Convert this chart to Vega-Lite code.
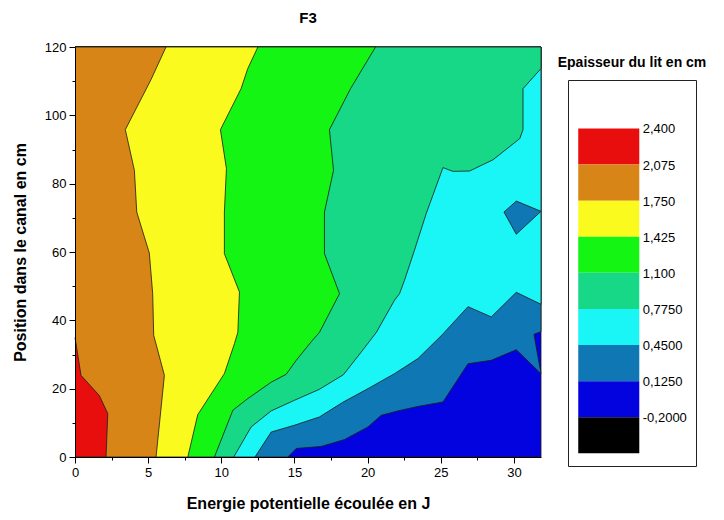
{
  "$schema": "https://vega.github.io/schema/vega-lite/v6.json",
  "padding": {"left": 12, "top": 11, "right": 5, "bottom": 5},
  "background": "white",
  "config": {"font": "Liberation Sans", "view": {"stroke": null}},
  "datasets": {
    "poly": [
      {"poly":"p0","band":"b1","i":0,"x":0,"y":0},{"poly":"p0","band":"b1","i":1,"x":31.85,"y":0},{"poly":"p0","band":"b1","i":2,"x":31.85,"y":120},{"poly":"p0","band":"b1","i":3,"x":0,"y":120},
      {"poly":"p1","band":"b2","i":0,"x":0,"y":0},{"poly":"p1","band":"b2","i":1,"x":14.55,"y":0},{"poly":"p1","band":"b2","i":2,"x":15.12,"y":2.5},{"poly":"p1","band":"b2","i":3,"x":16.83,"y":3.1},{"poly":"p1","band":"b2","i":4,"x":18.42,"y":5.1},{"poly":"p1","band":"b2","i":5,"x":20.02,"y":8.8},{"poly":"p1","band":"b2","i":6,"x":20.93,"y":12.2},{"poly":"p1","band":"b2","i":7,"x":22.07,"y":13.5},{"poly":"p1","band":"b2","i":8,"x":23.44,"y":14.8},{"poly":"p1","band":"b2","i":9,"x":25.15,"y":16.1},{"poly":"p1","band":"b2","i":10,"x":26.86,"y":27.3},{"poly":"p1","band":"b2","i":11,"x":28.45,"y":28.3},{"poly":"p1","band":"b2","i":12,"x":30.16,"y":31.4},{"poly":"p1","band":"b2","i":13,"x":31.85,"y":24.4},{"poly":"p1","band":"b2","i":14,"x":31.37,"y":35.9},{"poly":"p1","band":"b2","i":15,"x":31.85,"y":36.7},{"poly":"p1","band":"b2","i":16,"x":31.85,"y":120},{"poly":"p1","band":"b2","i":17,"x":0,"y":120},
      {"poly":"p2","band":"b3","i":0,"x":0,"y":0},{"poly":"p2","band":"b3","i":1,"x":12.3,"y":0},{"poly":"p2","band":"b3","i":2,"x":13.41,"y":7.3},{"poly":"p2","band":"b3","i":3,"x":15.0,"y":9.3},{"poly":"p2","band":"b3","i":4,"x":16.7,"y":11.7},{"poly":"p2","band":"b3","i":5,"x":18.3,"y":16.0},{"poly":"p2","band":"b3","i":6,"x":20.02,"y":20.0},{"poly":"p2","band":"b3","i":7,"x":21.84,"y":24.4},{"poly":"p2","band":"b3","i":8,"x":23.44,"y":28.8},{"poly":"p2","band":"b3","i":9,"x":25.1,"y":35.8},{"poly":"p2","band":"b3","i":10,"x":26.86,"y":44.0},{"poly":"p2","band":"b3","i":11,"x":28.45,"y":41.0},{"poly":"p2","band":"b3","i":12,"x":30.16,"y":48.2},{"poly":"p2","band":"b3","i":13,"x":31.85,"y":44.7},{"poly":"p2","band":"b3","i":14,"x":31.85,"y":120},{"poly":"p2","band":"b3","i":15,"x":0,"y":120},
      {"poly":"p3","band":"b2","i":0,"x":29.32,"y":71.7},{"poly":"p3","band":"b2","i":1,"x":30.16,"y":74.9},{"poly":"p3","band":"b2","i":2,"x":31.85,"y":71.9},{"poly":"p3","band":"b2","i":3,"x":30.16,"y":65.2},{"poly":"p3","band":"b2","i":4,"x":29.32,"y":71.7},
      {"poly":"p4","band":"b4","i":0,"x":0,"y":0},{"poly":"p4","band":"b4","i":1,"x":10.85,"y":0},{"poly":"p4","band":"b4","i":2,"x":12.04,"y":8.8},{"poly":"p4","band":"b4","i":3,"x":13.41,"y":13.5},{"poly":"p4","band":"b4","i":4,"x":15.0,"y":16.6},{"poly":"p4","band":"b4","i":5,"x":16.7,"y":19.8},{"poly":"p4","band":"b4","i":6,"x":18.35,"y":24.1},{"poly":"p4","band":"b4","i":7,"x":19.56,"y":30.7},{"poly":"p4","band":"b4","i":8,"x":20.6,"y":36.5},{"poly":"p4","band":"b4","i":9,"x":21.84,"y":45.9},{"poly":"p4","band":"b4","i":10,"x":22.18,"y":47.8},{"poly":"p4","band":"b4","i":11,"x":22.52,"y":51.7},{"poly":"p4","band":"b4","i":12,"x":23.2,"y":60.5},{"poly":"p4","band":"b4","i":13,"x":24.0,"y":71.2},{"poly":"p4","band":"b4","i":14,"x":25.15,"y":84.7},{"poly":"p4","band":"b4","i":15,"x":25.83,"y":83.6},{"poly":"p4","band":"b4","i":16,"x":26.97,"y":83.7},{"poly":"p4","band":"b4","i":17,"x":28.57,"y":87.0},{"poly":"p4","band":"b4","i":18,"x":30.4,"y":93.2},{"poly":"p4","band":"b4","i":19,"x":30.62,"y":95.8},{"poly":"p4","band":"b4","i":20,"x":30.62,"y":107.8},{"poly":"p4","band":"b4","i":21,"x":31.85,"y":113.7},{"poly":"p4","band":"b4","i":22,"x":31.85,"y":120},{"poly":"p4","band":"b4","i":23,"x":0,"y":120},
      {"poly":"p5","band":"b5","i":0,"x":0,"y":0},{"poly":"p5","band":"b5","i":1,"x":9.53,"y":0},{"poly":"p5","band":"b5","i":2,"x":10.79,"y":13.7},{"poly":"p5","band":"b5","i":3,"x":11.81,"y":17.1},{"poly":"p5","band":"b5","i":4,"x":13.41,"y":21.9},{"poly":"p5","band":"b5","i":5,"x":14.43,"y":24.2},{"poly":"p5","band":"b5","i":6,"x":15.12,"y":28.3},{"poly":"p5","band":"b5","i":7,"x":16.14,"y":33.7},{"poly":"p5","band":"b5","i":8,"x":16.71,"y":36.5},{"poly":"p5","band":"b5","i":9,"x":18.08,"y":47.8},{"poly":"p5","band":"b5","i":10,"x":17.05,"y":59.5},{"poly":"p5","band":"b5","i":11,"x":17.05,"y":71.7},{"poly":"p5","band":"b5","i":12,"x":17.67,"y":83.9},{"poly":"p5","band":"b5","i":13,"x":17.39,"y":95.8},{"poly":"p5","band":"b5","i":14,"x":18.83,"y":107.8},{"poly":"p5","band":"b5","i":15,"x":20.54,"y":120},{"poly":"p5","band":"b5","i":16,"x":0,"y":120},
      {"poly":"p6","band":"b6","i":0,"x":0,"y":0},{"poly":"p6","band":"b6","i":1,"x":7.71,"y":0},{"poly":"p6","band":"b6","i":2,"x":8.39,"y":12.4},{"poly":"p6","band":"b6","i":3,"x":10.21,"y":24.4},{"poly":"p6","band":"b6","i":4,"x":10.9,"y":33.2},{"poly":"p6","band":"b6","i":5,"x":11.13,"y":36.5},{"poly":"p6","band":"b6","i":6,"x":11.24,"y":48.3},{"poly":"p6","band":"b6","i":7,"x":10.21,"y":59.5},{"poly":"p6","band":"b6","i":8,"x":10.21,"y":71.7},{"poly":"p6","band":"b6","i":9,"x":10.35,"y":84.4},{"poly":"p6","band":"b6","i":10,"x":9.94,"y":95.8},{"poly":"p6","band":"b6","i":11,"x":11.35,"y":107.8},{"poly":"p6","band":"b6","i":12,"x":11.81,"y":113.7},{"poly":"p6","band":"b6","i":13,"x":12.5,"y":120},{"poly":"p6","band":"b6","i":14,"x":0,"y":120},
      {"poly":"p7","band":"b7","i":0,"x":0,"y":0},{"poly":"p7","band":"b7","i":1,"x":5.54,"y":0},{"poly":"p7","band":"b7","i":2,"x":6.11,"y":23.9},{"poly":"p7","band":"b7","i":3,"x":5.38,"y":35.6},{"poly":"p7","band":"b7","i":4,"x":5.31,"y":47.8},{"poly":"p7","band":"b7","i":5,"x":5.08,"y":59.7},{"poly":"p7","band":"b7","i":6,"x":4.22,"y":71.7},{"poly":"p7","band":"b7","i":7,"x":4.06,"y":83.9},{"poly":"p7","band":"b7","i":8,"x":3.44,"y":95.8},{"poly":"p7","band":"b7","i":9,"x":5.2,"y":110.5},{"poly":"p7","band":"b7","i":10,"x":6.22,"y":120},{"poly":"p7","band":"b7","i":11,"x":0,"y":120},
      {"poly":"p8","band":"b8","i":0,"x":0,"y":0},{"poly":"p8","band":"b8","i":1,"x":2.12,"y":0},{"poly":"p8","band":"b8","i":2,"x":2.24,"y":12.7},{"poly":"p8","band":"b8","i":3,"x":1.66,"y":18.0},{"poly":"p8","band":"b8","i":4,"x":0.41,"y":23.9},{"poly":"p8","band":"b8","i":5,"x":0,"y":35}
    ],
    "legend": [
      {"band":"b8","hi":2.4,"lo":2.075,"label":"2,400"},
      {"band":"b7","hi":2.075,"lo":1.75,"label":"2,075"},
      {"band":"b6","hi":1.75,"lo":1.425,"label":"1,750"},
      {"band":"b5","hi":1.425,"lo":1.1,"label":"1,425"},
      {"band":"b4","hi":1.1,"lo":0.775,"label":"1,100"},
      {"band":"b3","hi":0.775,"lo":0.45,"label":"0,7750"},
      {"band":"b2","hi":0.45,"lo":0.125,"label":"0,4500"},
      {"band":"b1","hi":0.125,"lo":-0.2,"label":"0,1250"},
      {"band":"b0","hi":-0.2,"lo":-0.525,"label":"-0,2000"}
    ]
  },
  "spacing": 27,
  "bounds": "flush",
  "hconcat": [
    {
      "width": 466,
      "height": 410,
      "title": {"text": "F3", "fontSize": 15, "fontWeight": "bold", "offset": 3, "anchor": "middle", "baseline": "alphabetic", "color": "black"},
      "data": {"name": "poly"},
      "encoding": {
        "x": {"field": "x", "type": "quantitative", "scale": {"domain": [0, 31.85], "nice": false, "zero": false},
          "axis": {"values": [0, 2.5, 5, 7.5, 10, 12.5, 15, 17.5, 20, 22.5, 25, 27.5, 30],
            "labelExpr": "datum.value % 5 === 0 ? format(datum.value, 'd') : ''",
            "tickSize": {"condition": {"test": "datum.value % 5 !== 0", "value": 3}, "value": 6},
            "title": "Energie potentielle écoulée en J", "titleFontSize": 16, "titleFontWeight": "bold", "titlePadding": 16,
            "labelFontSize": 13, "labelPadding": 3, "grid": false, "domainColor": "black", "tickColor": "black",
            "labelColor": "black", "titleColor": "black", "zindex": 1, "labelOverlap": false, "labelFlush": false}},
        "y": {"field": "y", "type": "quantitative", "scale": {"domain": [0, 120], "nice": false, "zero": false},
          "axis": {"values": [0, 10, 20, 30, 40, 50, 60, 70, 80, 90, 100, 110, 120],
            "labelExpr": "datum.value % 20 === 0 ? format(datum.value, 'd') : ''",
            "tickSize": {"condition": {"test": "datum.value % 20 !== 0", "value": 3}, "value": 6},
            "title": "Position dans le canal en cm", "titleFontSize": 16, "titleFontWeight": "bold", "titlePadding": 16,
            "labelFontSize": 13, "labelPadding": 3, "grid": false, "domainColor": "black", "tickColor": "black",
            "labelColor": "black", "titleColor": "black", "zindex": 1, "labelOverlap": false, "labelFlush": false}},
        "fill": {"field": "band", "type": "nominal", "legend": null,
          "scale": {"domain": ["b0","b1","b2","b3","b4","b5","b6","b7","b8"],
            "range": ["#000000","#0303df","#0f78b4","#1af5f5","#16d886","#14f514","#fafa1e","#d68516","#e80e0e"]}},
        "order": {"field": "i", "type": "quantitative"}
      },
      "layer": [
        {"transform": [{"filter": "datum.poly === 'p0'"}], "mark": {"type": "line", "stroke": "#1a1a1a", "strokeWidth": 0.8}},
        {"transform": [{"filter": "datum.poly === 'p1'"}], "mark": {"type": "line", "stroke": "#1a1a1a", "strokeWidth": 0.8}},
        {"transform": [{"filter": "datum.poly === 'p2'"}], "mark": {"type": "line", "stroke": "#1a1a1a", "strokeWidth": 0.8}},
        {"transform": [{"filter": "datum.poly === 'p3'"}], "mark": {"type": "line", "stroke": "#1a1a1a", "strokeWidth": 0.8}},
        {"transform": [{"filter": "datum.poly === 'p4'"}], "mark": {"type": "line", "stroke": "#1a1a1a", "strokeWidth": 0.8}},
        {"transform": [{"filter": "datum.poly === 'p5'"}], "mark": {"type": "line", "stroke": "#1a1a1a", "strokeWidth": 0.8}},
        {"transform": [{"filter": "datum.poly === 'p6'"}], "mark": {"type": "line", "stroke": "#1a1a1a", "strokeWidth": 0.8}},
        {"transform": [{"filter": "datum.poly === 'p7'"}], "mark": {"type": "line", "stroke": "#1a1a1a", "strokeWidth": 0.8}},
        {"transform": [{"filter": "datum.poly === 'p8'"}], "mark": {"type": "line", "stroke": "#1a1a1a", "strokeWidth": 0.8}}
      ]
    },
    {
      "spacing": 32,
      "bounds": "flush",
      "vconcat": [
        {"width": 128, "height": 1, "data": {"values": [{}]}, "mark": {"type": "point", "opacity": 0}, "encoding": {}},
        {
          "width": 128,
          "height": 386,
          "title": {"text": "Epaisseur du lit en cm", "fontSize": 14, "fontWeight": "bold", "offset": -1, "anchor": "middle", "baseline": "alphabetic", "color": "black"},
          "view": {"stroke": "#222222", "strokeWidth": 1},
          "data": {"name": "legend"},
          "encoding": {
            "y": {"field": "hi", "type": "quantitative", "scale": {"domain": [-0.639, 2.836], "nice": false, "zero": false}, "axis": null}
          },
          "layer": [
            {"mark": {"type": "rect"},
             "encoding": {
               "x": {"datum": 0.08, "type": "quantitative", "scale": {"domain": [0, 1], "nice": false}, "axis": null},
               "x2": {"datum": 0.557},
               "y2": {"field": "lo"},
               "fill": {"field": "band", "type": "nominal", "legend": null}
             }},
            {"mark": {"type": "text", "align": "left", "baseline": "middle", "fontSize": 13, "dy": 1, "color": "black"},
             "encoding": {
               "x": {"datum": 0.584, "type": "quantitative"},
               "text": {"field": "label", "type": "nominal"}
             }}
          ]
        }
      ]
    }
  ]
}
